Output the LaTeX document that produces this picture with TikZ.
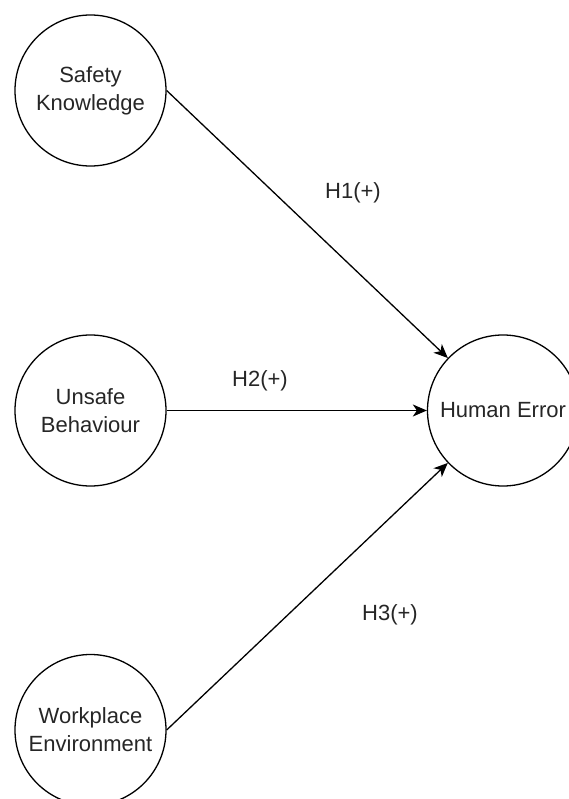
\documentclass[tikz,border=0pt]{standalone}
\usepackage{fontspec}
\setmainfont{Liberation Sans}
\usetikzlibrary{arrows.meta}
\begin{document}
\begin{tikzpicture}[x=1pt,y=-1pt,
  construct/.style={circle,draw=black,line width=1.3pt,fill=white,minimum size=151pt,inner sep=0pt,align=center,font=\fontsize{22}{28}\selectfont,text=black!85},
  hyp/.style={font=\fontsize{22}{26}\selectfont,text=black!85,inner sep=0pt},
  link/.style={line width=1.3pt,-{Stealth[length=14pt,width=12pt,inset=4pt]}}]
\useasboundingbox (0,0) rectangle (568,799);
\fill[white] (0,0) rectangle (568,799);
\node[construct] (sk) at (90.5,90.5) {Safety\\Knowledge};
\node[construct] (ub) at (90.5,410.5) {Unsafe\\Behaviour};
\node[construct] (we) at (90.5,730) {Workplace\\Environment};
\node[construct] (he) at (503,410.5) {Human Error};
\draw[link] (sk.east) -- (he);
\draw[link] (ub.east) -- (he.west);
\draw[link] (we.east) -- (he);
\node[hyp] (h1) at (353,193) {H1(+)};
\node[hyp] (h2) at (260,381) {H2(+)};
\node[hyp] (h3) at (390,615) {H3(+)};
\end{tikzpicture}
\end{document}
